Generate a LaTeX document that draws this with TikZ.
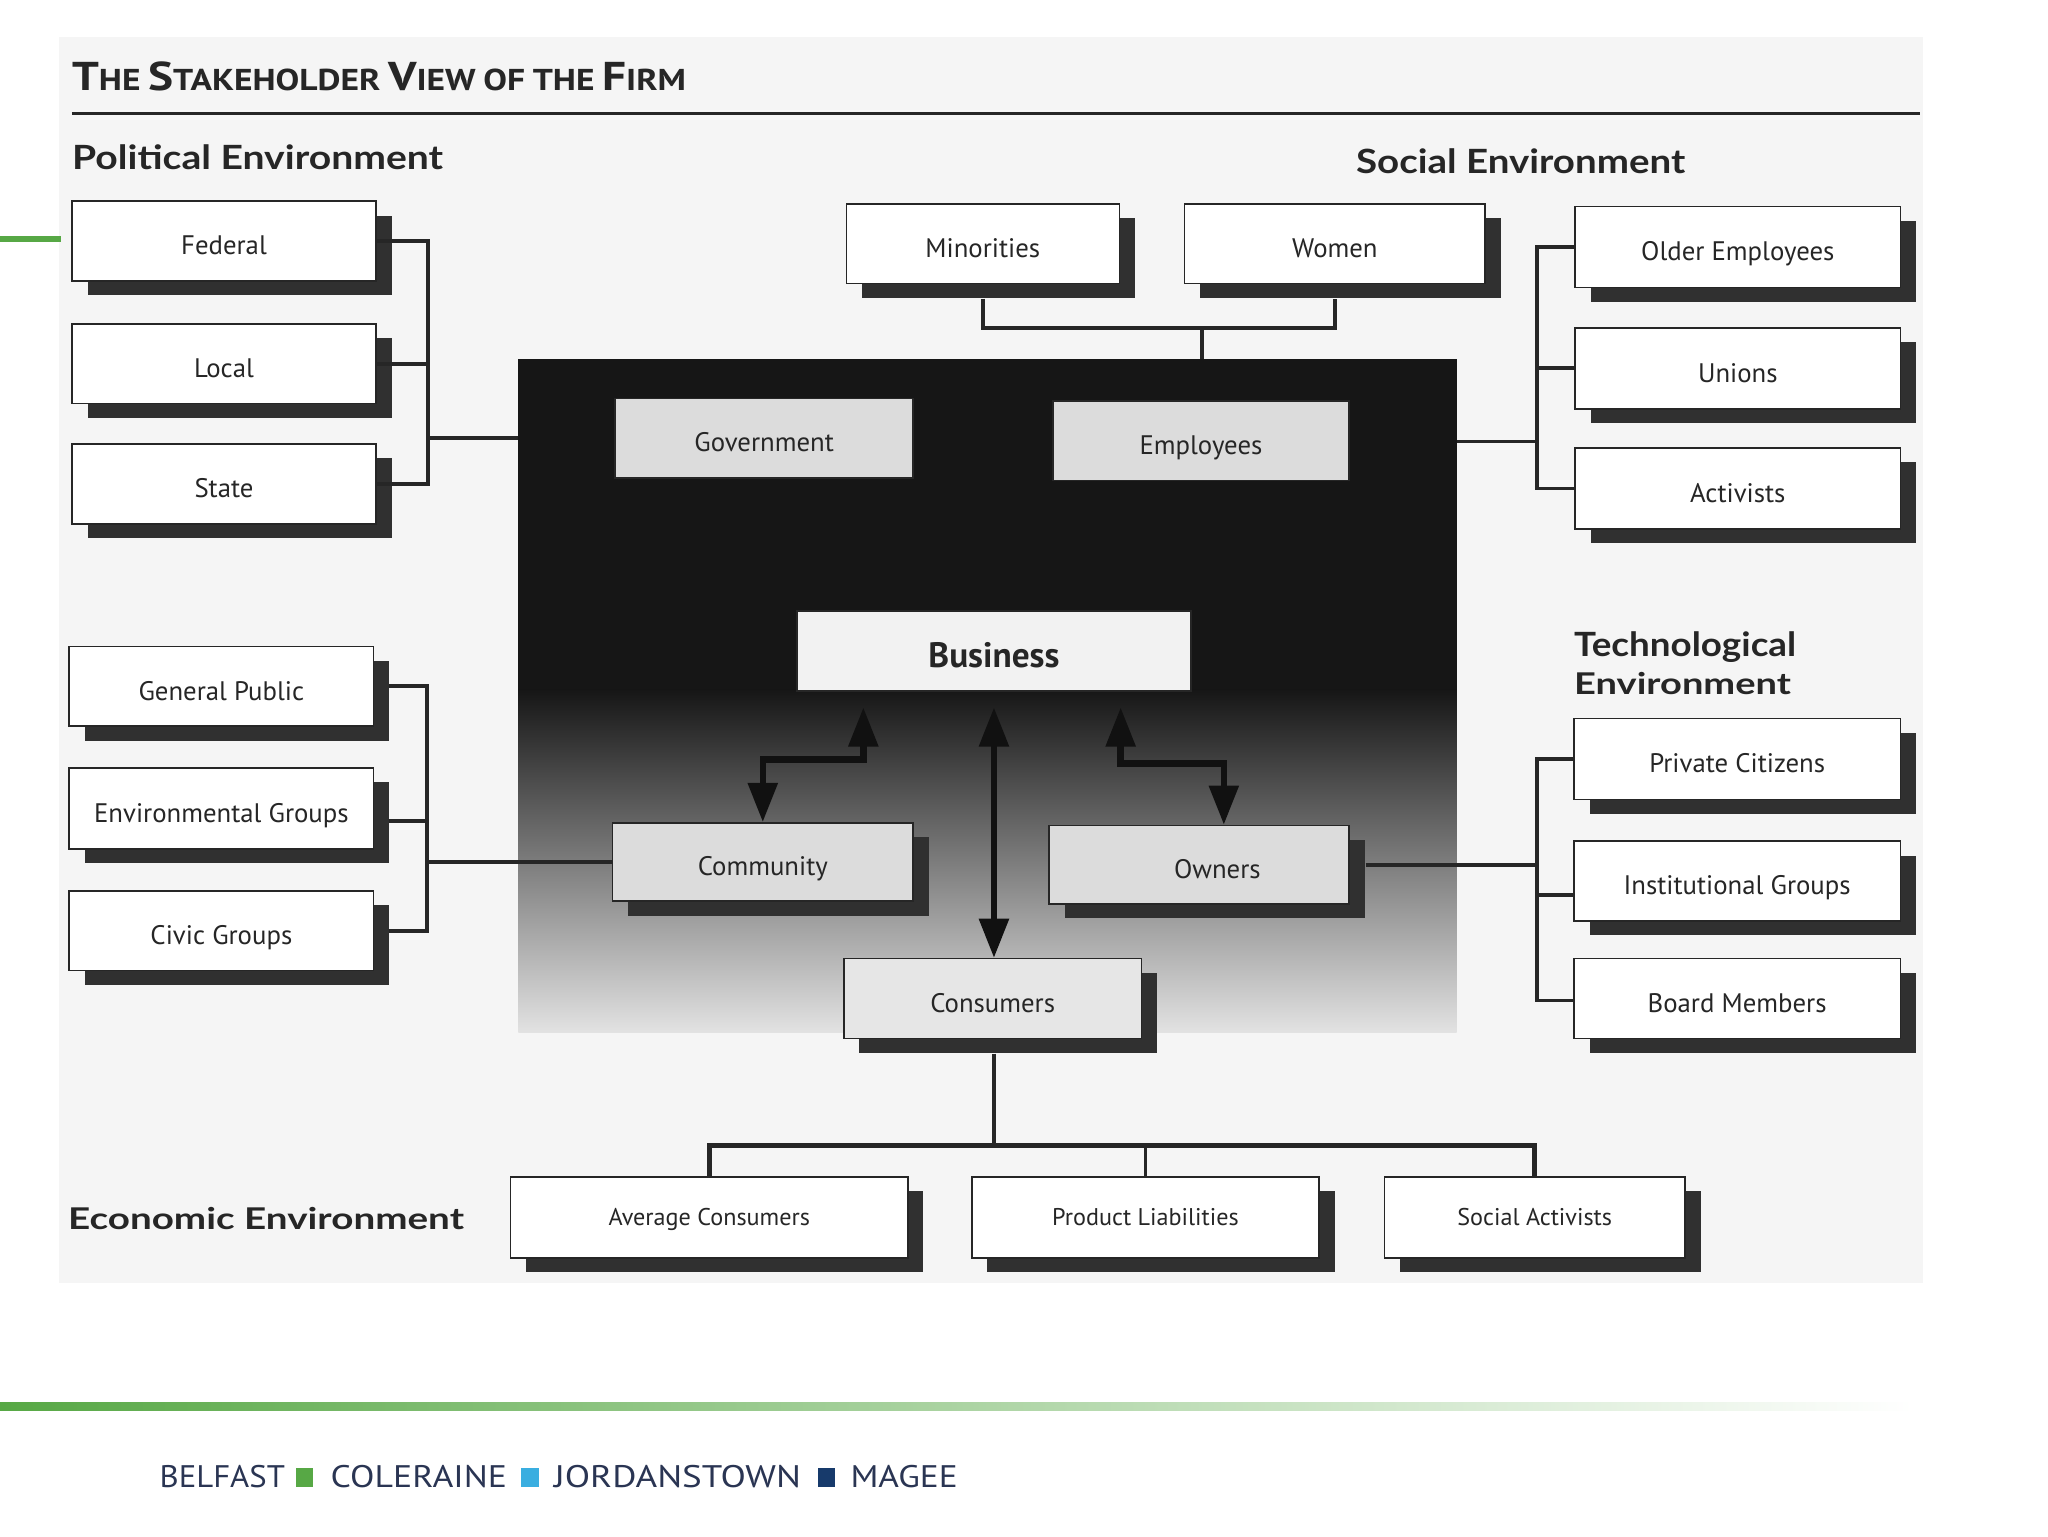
\documentclass[tikz,border=0pt]{standalone}
\usepackage{fontspec}
\setmainfont{PT Sans}
\newfontfamily\boxfont[WordSpace=1.7]{PT Sans}
\newfontfamily\headfont{Lato}
\newfontfamily\titlefont{PT Sans}
\newfontfamily\footfont{PT Sans}
\usetikzlibrary{arrows.meta,shadows}

\definecolor{shadowc}{HTML}{303030}
\definecolor{linec}{HTML}{262626}
\definecolor{arrowc}{HTML}{111111}
\definecolor{textc}{HTML}{262626}
\definecolor{innerc}{HTML}{DCDCDC}
\definecolor{busc}{HTML}{F2F2F2}
\definecolor{coredark}{HTML}{161616}
\definecolor{coremid}{HTML}{767676}
\definecolor{corelight}{HTML}{E2E2E2}
\definecolor{scanbg}{HTML}{F5F5F5}
\definecolor{greenu}{HTML}{57A845}
\definecolor{blueu}{HTML}{3AAEE0}
\definecolor{navyu}{HTML}{173A6B}
\definecolor{footc}{HTML}{2A3553}

\newcommand\scw[2]{{\fontsize{28}{28}\selectfont #1}{\fontsize{21}{21}\selectfont #2}}
\newcommand\scs[1]{{\fontsize{21}{21}\selectfont #1}}
\newcommand\tsp{\hspace{0.45em}}

\begin{document}
\begin{tikzpicture}[x=1pt,y=-1pt,
  basebox/.style={draw=textc, line width=1.2pt, fill=white, inner sep=0pt, text=textc,
    font=\boxfont\fontsize{20.5}{24}\selectfont, text height=21pt, text depth=0pt},
  sbox/.style={basebox,
    drop shadow={shadow xshift=12pt, shadow yshift=-11pt, fill=shadowc, opacity=1}},
  ibox/.style={sbox, fill=innerc},
  ebox/.style={sbox, font=\boxfont\fontsize{18.5}{22}\selectfont, text height=13pt},
  sz/.style 2 args={minimum width=#1pt, minimum height=#2pt},
  conn/.style={draw=linec, line width=3pt},
  dbl/.style={draw=arrowc, line width=5pt,
    {Triangle[length=30pt,width=22pt]}-{Triangle[length=30pt,width=22pt]}},
  head/.style={anchor=base west, inner sep=0pt, text=textc,
    font=\headfont\bfseries\fontsize{23.5}{28}\selectfont},
  foot/.style={anchor=base west, inner sep=0pt, text=footc, font=\footfont},
]
\useasboundingbox (0,0) rectangle (1568,1176);
\fill[white] (0,0) rectangle (1568,1176);
\fill[scanbg] (45,28) rectangle (1472,982);

% title
\node[anchor=base west, inner sep=0pt, text=textc, font=\titlefont\bfseries] (title) at (55,69.5)
  {\resizebox{470pt}{22pt}{\scw{T}{HE}\tsp\scw{S}{TAKEHOLDER}\tsp\scw{V}{IEW}\tsp\scs{OF}\tsp\scs{THE}\tsp\scw{F}{IRM}}};
\coordinate (ruleL) at (55,87);
\coordinate (ruleR) at (1470,87);
\draw[linec, line width=2.5pt] (ruleL) -- (ruleR);

% green tick of the slide
\fill[greenu] (0,180.5) rectangle (47,185.5);

% core (dark gradient box)
\node[inner sep=0pt, minimum width=718pt, minimum height=515pt] (core) at (756,532.5) {};
\fill[coredark] (core.north west) rectangle ([yshift=262pt]core.south east);
\shade[top color=coredark, middle color=coremid, bottom color=corelight]
  ([yshift=262pt]core.south west) rectangle (core.south east);

% headings
\node[head] (polh) at (55,130) {\resizebox{284pt}{19pt}{Political Environment}};
\node[head] (soch) at (1038,133) {\resizebox{252pt}{19pt}{Social Environment}};
\node[head] (tech1) at (1205,503) {\resizebox{170pt}{19pt}{Technological}};
\node[head] (tech2) at (1205,532) {\resizebox{166pt}{17pt}{Environment}};
\node[head] (ecoh) at (52,941) {\resizebox{303pt}{17pt}{Economic Environment}};

% political boxes
\node[sbox, sz={233}{61}] (fed) at (171.5,184.5) {Federal};
\node[sbox, sz={233}{61}] (loc) at (171.5,278.5) {Local};
\node[sbox, sz={233}{61}] (sta) at (171.5,370.5) {State};

% social boxes
\node[sbox, sz={209}{61}] (mino) at (752.5,186.5) {Minorities};
\node[sbox, sz={230}{61}] (wom) at (1022,186.5) {Women};
\node[sbox, sz={249}{62}] (olde) at (1330.5,189) {Older Employees};
\node[sbox, sz={249}{62}] (unio) at (1330.5,282) {Unions};
\node[sbox, sz={249}{62}] (acti) at (1330.5,374) {Activists};

% left lower boxes
\node[sbox, sz={233}{61}] (genp) at (169.5,525.5) {General Public};
\node[sbox, sz={233}{62}] (envg) at (169.5,619) {Environmental Groups};
\node[sbox, sz={233}{61}] (civg) at (169.5,712.5) {Civic Groups};

% technological boxes
\node[sbox, sz={250}{62}] (priv) at (1330,581) {Private Citizens};
\node[sbox, sz={250}{61}] (inst) at (1330,674.5) {Institutional Groups};
\node[sbox, sz={250}{61}] (board) at (1330,764.5) {Board Members};

% inner boxes
\node[basebox, fill=innerc, sz={228}{61}] (gov) at (585,335.5) {Government};
\node[basebox, fill=innerc, sz={227}{61}] (emp) at (919.5,337.5) {Employees};
\node[basebox, fill=busc, sz={302}{61}, font=\boxfont\bfseries\fontsize{27}{30}\selectfont, text height=25pt] (bus) at (761,498.5) {Business};
\node[ibox, sz={230}{60}] (comm) at (584,660) {Community};
\node[ibox, sz={230}{60}] (own) at (918,662) {\hspace*{28pt}Owners};
\node[ibox, fill=innerc!70!white, sz={228}{61}] (cons) at (760,764.5) {Consumers};

% economic boxes
\node[ebox, sz={304}{62}] (avgc) at (543,932) {Average Consumers};
\node[ebox, sz={266}{62}] (prod) at (877,932) {Product Liabilities};
\node[ebox, sz={230}{62}] (soca) at (1175,932) {Social Activists};

% political bracket
\draw[conn] (fed.east) -- (328,184.5) |- (sta.east);
\draw[conn] (loc.east) -- (328,278.5);
\coordinate (pj) at (328,335);
\draw[conn] (pj) -- (pj -| core.west);

% social top connectors
\coordinate (sj) at (920,251);
\draw[conn] ([yshift=-11pt]mino.south) |- (sj) -| ([yshift=-11pt]wom.south);
\draw[conn] (sj) -- (sj |- core.north);

% social right bracket
\draw[conn] (olde.west) -- (1177,189) |- (acti.west);
\draw[conn] (unio.west) -- (1177,282);
\coordinate (rj) at (1177,338);
\draw[conn] (core.east |- rj) -- (rj);

% left lower bracket
\draw[conn] ([xshift=11pt]genp.east) -- (327,525.5) |- ([xshift=11pt]civg.east);
\draw[conn] ([xshift=11pt,yshift=-9.5pt]envg.east) -- (327,628.5);
\coordinate (lj) at (327,660);
\draw[conn] (lj) -- (comm.west);

% technological bracket
\draw[conn] (priv.west) -- (1177,581) |- ([yshift=-1.5pt]board.west);
\draw[conn] ([yshift=-11pt]inst.west) -- (1177,685.5);
\coordinate (rlj) at (1177,662);
\draw[conn] ([xshift=12pt]own.east) -- (rlj);

% economic tree
\coordinate (ej) at (761,877);
\draw[conn] ([yshift=-11pt]bus.south |- cons.south) -- (ej);
\draw[conn, line width=3.5pt] (avgc.north) |- (ej) -| (soca.north);
\draw[conn] (prod.north) -- (prod.north |- ej);

% two-way arrows
\draw[dbl] ([yshift=-12pt]bus.south) -- (bus.south |- cons.north);
\draw[dbl] ([xshift=-100pt,yshift=-12pt]bus.south) |- ([yshift=48pt]comm.north) -- (comm.north);
\draw[dbl] ([xshift=97pt,yshift=-12pt]bus.south) |- ([xshift=19pt,yshift=47pt]own.north) -- ([xshift=19pt]own.north);

% footer
\shade[left color=greenu, middle color=greenu!50!white, right color=white] (0,1074) rectangle (1465,1080);
\node[foot] (f1) at (122,1139) {\resizebox{96pt}{17pt}{BELFAST}};
\fill[greenu] (227,1124) rectangle (240,1138.5);
\node[foot] (f2) at (253,1139) {\resizebox{135pt}{17pt}{COLERAINE}};
\fill[blueu] (399,1124) rectangle (412.5,1138.5);
\node[foot] (f3) at (424,1139) {\resizebox{189pt}{17pt}{JORDANSTOWN}};
\fill[navyu] (626,1124) rectangle (639.5,1138.5);
\node[foot] (f4) at (651,1139) {\resizebox{82pt}{17pt}{MAGEE}};
\end{tikzpicture}
\end{document}
